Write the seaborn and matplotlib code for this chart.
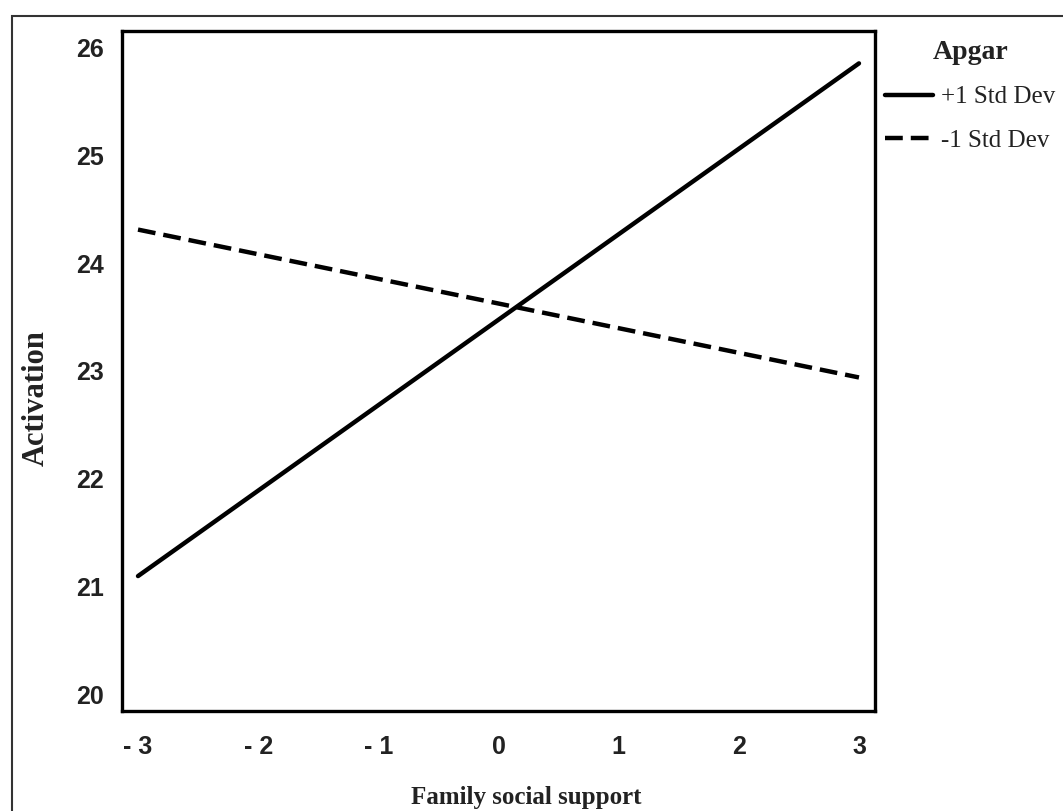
import numpy as np
import pandas as pd
import seaborn as sns
import matplotlib.pyplot as plt
from matplotlib.patches import Rectangle

# --- DATA ---
support = [-3, 3]
plus_sd = [21.10, 25.85]
minus_sd = [24.31, 22.94]
groups = ["+1 Std Dev", "-1 Std Dev"]
xticks = [-3, -2, -1, 0, 1, 2, 3]
xticklabels = ["- 3", "- 2", "- 1", "0", "1", "2", "3"]
yticks = [20, 21, 22, 23, 24, 25, 26]

df = pd.DataFrame({
    "support": support * 2,
    "activation": plus_sd + minus_sd,
    "Apgar": [groups[0]] * 2 + [groups[1]] * 2,
})

sns.set_style("white")
plt.rcParams["font.family"] = ["Liberation Sans", "DejaVu Sans"]

fig = plt.figure(figsize=(10.63, 8.11), dpi=100)
ax = fig.add_axes([0.1148, 0.1233, 0.7083, 0.8385])

sns.lineplot(data=df, x="support", y="activation", style="Apgar",
             style_order=groups, dashes={groups[0]: "", groups[1]: (4, 1.8)},
             color="black", linewidth=3.2, ax=ax)

ax.set_xlim(-3.133, 3.133)
ax.set_ylim(19.85, 26.15)
ax.set_xticks(xticks)
ax.set_xticklabels(xticklabels)
ax.set_yticks(yticks)

for s in ax.spines.values():
    s.set_linewidth(2.4)
    s.set_color("black")
ax.tick_params(axis="both", direction="out", length=7, width=2.2, color="black",
               labelsize=18, labelcolor="#222222")
ax.tick_params(axis="x", pad=10)
ax.tick_params(axis="y", pad=6)
for lab in ax.get_xticklabels() + ax.get_yticklabels():
    lab.set_fontweight("bold")

ax.set_xlabel("Family social support", family="Liberation Serif", fontsize=18,
              fontweight="bold", color="#222222", labelpad=20)
ax.set_ylabel("Activation", family="Liberation Serif", fontsize=22,
              fontweight="bold", color="#222222", labelpad=18)
# labels in the original sit a little off-centre
ax.xaxis.label.set_x(0.537)
ax.yaxis.label.set_y(0.46)

leg = ax.legend(loc="upper left", bbox_to_anchor=(0.997, 1.005), frameon=False,
                title="Apgar", handlelength=1.9, handletextpad=0.35,
                labelspacing=0.85, borderaxespad=0.3, borderpad=0.2,
                prop={"family": "Liberation Serif", "size": 18})
leg.get_title().set_fontfamily("Liberation Serif")
leg.get_title().set_fontweight("bold")
leg.get_title().set_fontsize(20)
leg.get_title().set_color("#222222")
leg._legend_box.sep = 15
for t in leg.get_texts():
    t.set_color("#222222")

# outer frame of the original image
fig.patches.append(Rectangle((12 / 1063, -0.1), 1.2, 1.1 - 16 / 811,
                             transform=fig.transFigure, fill=False,
                             edgecolor="#333333", linewidth=1.5))

fig.savefig("out.png", dpi=100)
